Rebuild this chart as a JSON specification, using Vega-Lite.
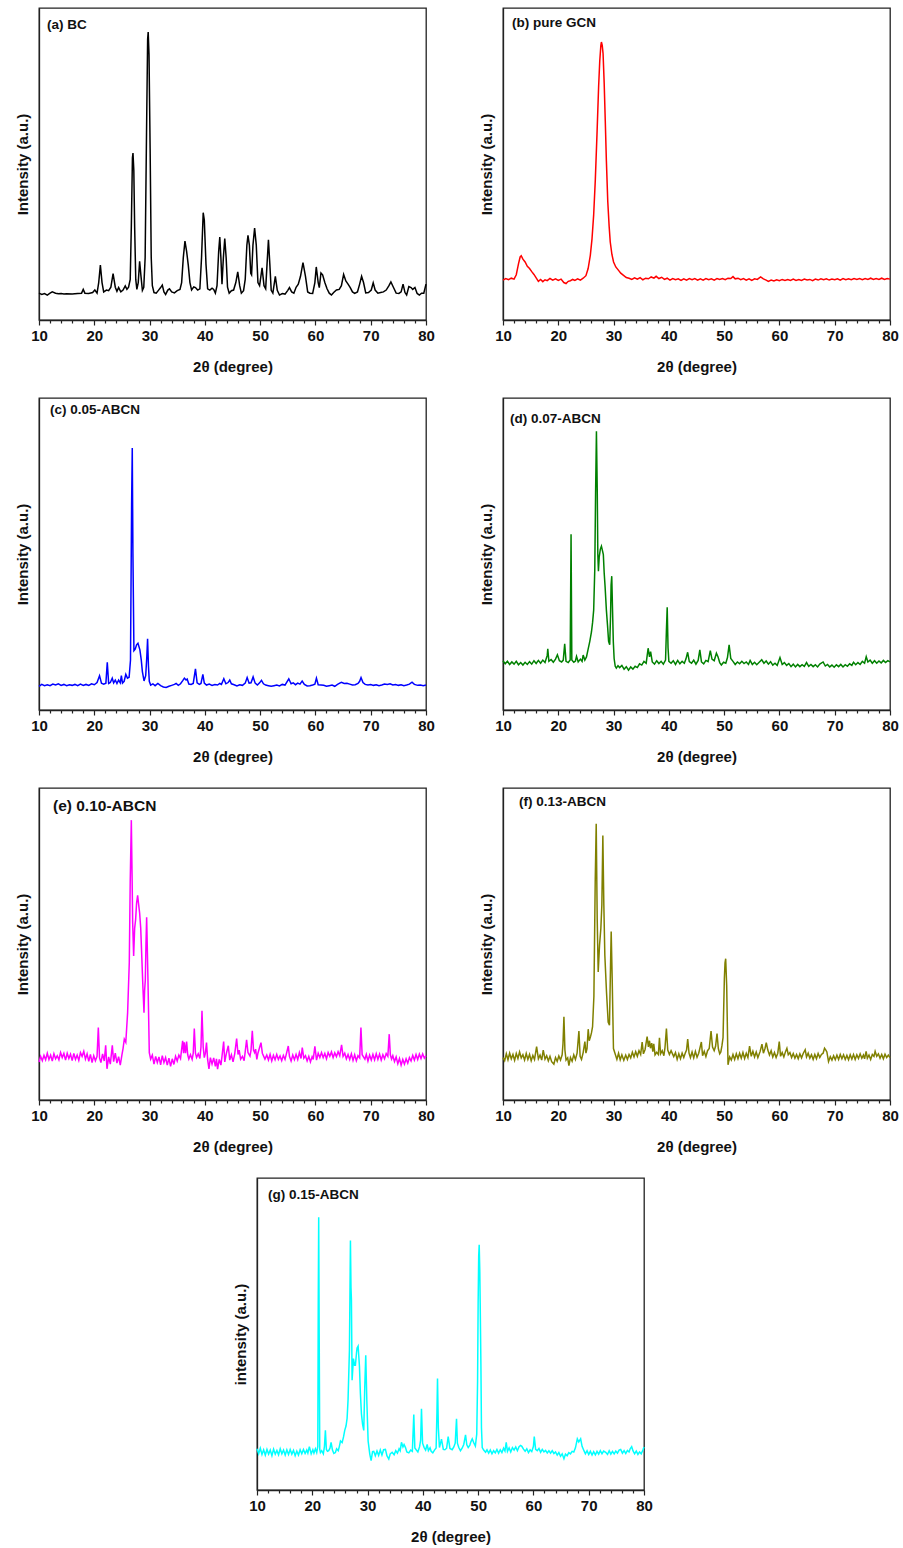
{
"$schema": "https://vega.github.io/schema/vega-lite/v6.json",
"padding": {"left": 14, "top": 7, "right": 5, "bottom": 5},
"background": "white",
"config": {
 "font": "Liberation Sans",
 "view": {"stroke": "#222", "strokeWidth": 1.3},
 "axis": {"grid": false},
 "axisX": {"labelFontSize": 15, "labelFontWeight": "bold", "labelColor": "#111", "labelPadding": 3, "labelFlush": false, "labelOverlap": false, "labelBound": false, "titleFontSize": 15, "titleFontWeight": "bold", "titleColor": "#111", "titlePadding": 16, "tickColor": "#222", "tickWidth": 1.2, "domainColor": "#222", "domainWidth": 1.3},
 "axisY": {"labels": false, "ticks": false, "titleFontSize": 15, "titleFontWeight": "bold", "titleColor": "#111", "titlePadding": 9, "domainColor": "#222", "domainWidth": 1.3},
 "title": {"anchor": "start", "frame": "group", "baseline": "top", "fontSize": 13.5, "fontWeight": "bold", "color": "#111"},
 "line": {"strokeWidth": 1.5}
},
"datasets": {
"a": [{"x":10.0,"y":8.6},{"x":10.5,"y":8.2},{"x":11.0,"y":8.5},{"x":11.5,"y":8.0},{"x":12.0,"y":8.6},{"x":12.4,"y":9.0},{"x":13.0,"y":8.6},{"x":13.5,"y":8.4},{"x":14.0,"y":8.5},{"x":14.5,"y":8.3},{"x":15.0,"y":8.4},{"x":16.0,"y":8.3},{"x":17.0,"y":8.5},{"x":17.7,"y":8.6},{"x":18.0,"y":9.8},{"x":18.3,"y":8.6},{"x":19.0,"y":8.5},{"x":19.7,"y":8.8},{"x":20.1,"y":9.6},{"x":20.5,"y":8.6},{"x":20.8,"y":12},{"x":21.1,"y":17.6},{"x":21.4,"y":12},{"x":21.7,"y":9.0},{"x":22.2,"y":9.6},{"x":22.6,"y":9.4},{"x":23.0,"y":10.5},{"x":23.4,"y":14.9},{"x":23.8,"y":10.5},{"x":24.1,"y":9.2},{"x":24.4,"y":10.4},{"x":24.8,"y":9.0},{"x":25.2,"y":9.6},{"x":25.6,"y":10.9},{"x":25.9,"y":9.8},{"x":26.2,"y":10.5},{"x":26.5,"y":13},{"x":26.7,"y":30},{"x":26.9,"y":52},{"x":27.0,"y":53.5},{"x":27.15,"y":48},{"x":27.3,"y":30},{"x":27.5,"y":13},{"x":27.7,"y":9.8},{"x":27.95,"y":12},{"x":28.2,"y":18.8},{"x":28.45,"y":14},{"x":28.7,"y":9.5},{"x":28.95,"y":10.5},{"x":29.2,"y":20},{"x":29.45,"y":60},{"x":29.65,"y":90},{"x":29.75,"y":92.3},{"x":29.9,"y":85},{"x":30.1,"y":55},{"x":30.3,"y":20},{"x":30.5,"y":11},{"x":30.8,"y":8.8},{"x":31.2,"y":8.6},{"x":31.6,"y":9.5},{"x":32.0,"y":10.4},{"x":32.3,"y":11.2},{"x":32.6,"y":9.0},{"x":32.9,"y":8.2},{"x":33.3,"y":9.6},{"x":33.6,"y":10.0},{"x":34.0,"y":9.0},{"x":34.5,"y":8.7},{"x":35.0,"y":9.4},{"x":35.5,"y":9.8},{"x":35.8,"y":12},{"x":36.1,"y":20},{"x":36.4,"y":25.3},{"x":36.7,"y":22},{"x":37.0,"y":17.6},{"x":37.3,"y":12},{"x":37.6,"y":9.6},{"x":38.0,"y":10.6},{"x":38.3,"y":10.4},{"x":38.7,"y":9.6},{"x":39.1,"y":10.0},{"x":39.4,"y":20},{"x":39.7,"y":34.4},{"x":39.9,"y":32},{"x":40.2,"y":18},{"x":40.5,"y":10},{"x":40.9,"y":9.6},{"x":41.3,"y":10.2},{"x":41.6,"y":9.8},{"x":41.9,"y":8.6},{"x":42.2,"y":11},{"x":42.5,"y":22},{"x":42.7,"y":26.6},{"x":42.9,"y":20},{"x":43.1,"y":11.5},{"x":43.35,"y":20},{"x":43.6,"y":26.1},{"x":43.85,"y":20},{"x":44.1,"y":10.5},{"x":44.4,"y":8.6},{"x":44.8,"y":9.4},{"x":45.2,"y":9.6},{"x":45.6,"y":12},{"x":45.95,"y":15.4},{"x":46.3,"y":11},{"x":46.6,"y":8.6},{"x":47.0,"y":9.4},{"x":47.3,"y":13},{"x":47.6,"y":24},{"x":47.8,"y":27.1},{"x":48.05,"y":24},{"x":48.3,"y":15},{"x":48.45,"y":14.5},{"x":48.7,"y":24},{"x":49.0,"y":29.5},{"x":49.3,"y":24},{"x":49.6,"y":12},{"x":49.9,"y":11},{"x":50.35,"y":16.7},{"x":50.7,"y":11},{"x":51.0,"y":10},{"x":51.25,"y":18},{"x":51.5,"y":25.7},{"x":51.75,"y":18},{"x":52.0,"y":9.5},{"x":52.3,"y":8.6},{"x":52.75,"y":14.0},{"x":53.1,"y":9.5},{"x":53.5,"y":8.0},{"x":54.0,"y":8.5},{"x":54.5,"y":8.3},{"x":55.0,"y":9.5},{"x":55.3,"y":10.4},{"x":55.7,"y":9.0},{"x":56.1,"y":8.6},{"x":56.5,"y":10.5},{"x":56.9,"y":11.5},{"x":57.3,"y":14},{"x":57.75,"y":18.4},{"x":58.2,"y":14},{"x":58.6,"y":9.0},{"x":59.0,"y":8.6},{"x":59.5,"y":8.5},{"x":59.9,"y":12},{"x":60.15,"y":17.0},{"x":60.5,"y":12},{"x":60.7,"y":10.4},{"x":61.0,"y":15.1},{"x":61.3,"y":14.5},{"x":61.7,"y":12},{"x":62.1,"y":10},{"x":62.5,"y":8.6},{"x":62.9,"y":8.0},{"x":63.3,"y":8.8},{"x":63.8,"y":9.6},{"x":64.3,"y":9.8},{"x":64.7,"y":11},{"x":65.1,"y":14.6},{"x":65.5,"y":12.5},{"x":65.9,"y":11.5},{"x":66.3,"y":10.4},{"x":66.7,"y":9.0},{"x":67.1,"y":8.5},{"x":67.6,"y":9.0},{"x":68.0,"y":11.5},{"x":68.35,"y":14.0},{"x":68.7,"y":12},{"x":69.1,"y":8.7},{"x":69.6,"y":8.8},{"x":70.1,"y":9.6},{"x":70.45,"y":11.9},{"x":70.8,"y":9.6},{"x":71.3,"y":8.6},{"x":71.8,"y":8.8},{"x":72.3,"y":9.0},{"x":72.8,"y":9.6},{"x":73.3,"y":11},{"x":73.65,"y":12.2},{"x":74.1,"y":10.5},{"x":74.6,"y":8.6},{"x":75.1,"y":8.5},{"x":75.5,"y":9.0},{"x":75.85,"y":11.5},{"x":76.2,"y":8.8},{"x":76.5,"y":8.0},{"x":76.9,"y":10.7},{"x":77.3,"y":10.4},{"x":77.6,"y":9.8},{"x":78.0,"y":10.4},{"x":78.4,"y":8.5},{"x":78.8,"y":8.0},{"x":79.2,"y":8.6},{"x":79.6,"y":8.6},{"x":80.0,"y":11.5}],
"b": [{"x":10.0,"y":12.8},{"x":10.5,"y":13.3},{"x":11.0,"y":12.9},{"x":11.5,"y":13.4},{"x":12.0,"y":13.1},{"x":12.4,"y":14.5},{"x":12.8,"y":18},{"x":13.1,"y":20.2},{"x":13.3,"y":20.6},{"x":13.6,"y":19.5},{"x":14.0,"y":18.6},{"x":14.4,"y":17.2},{"x":14.8,"y":16.5},{"x":15.2,"y":15.5},{"x":15.6,"y":14.6},{"x":16.0,"y":13.5},{"x":16.4,"y":12.4},{"x":16.8,"y":13.0},{"x":17.2,"y":12.3},{"x":17.6,"y":12.9},{"x":18.0,"y":12.6},{"x":18.5,"y":13.3},{"x":19.0,"y":12.8},{"x":19.5,"y":13.2},{"x":20.0,"y":12.7},{"x":20.5,"y":13.1},{"x":21.0,"y":12.0},{"x":21.4,"y":11.7},{"x":21.8,"y":12.4},{"x":22.2,"y":12.6},{"x":22.6,"y":13.0},{"x":23.0,"y":12.7},{"x":23.5,"y":13.2},{"x":24.0,"y":12.8},{"x":24.5,"y":13.4},{"x":25.0,"y":14.2},{"x":25.4,"y":16.5},{"x":25.8,"y":20.8},{"x":26.1,"y":26},{"x":26.4,"y":33.7},{"x":26.7,"y":45},{"x":27.0,"y":59.5},{"x":27.3,"y":75},{"x":27.5,"y":83},{"x":27.7,"y":88},{"x":27.8,"y":89.1},{"x":27.95,"y":88},{"x":28.1,"y":85.4},{"x":28.3,"y":76},{"x":28.5,"y":63.8},{"x":28.7,"y":51},{"x":28.95,"y":38},{"x":29.2,"y":30},{"x":29.4,"y":25},{"x":29.7,"y":21},{"x":30.0,"y":18.6},{"x":30.4,"y":17},{"x":30.9,"y":15.9},{"x":31.3,"y":15.0},{"x":31.8,"y":14.3},{"x":32.3,"y":13.6},{"x":32.8,"y":13.4},{"x":33.3,"y":13.0},{"x":33.8,"y":13.5},{"x":34.3,"y":13.1},{"x":34.8,"y":13.6},{"x":35.3,"y":12.9},{"x":35.8,"y":13.4},{"x":36.3,"y":13.2},{"x":36.8,"y":13.8},{"x":37.3,"y":13.4},{"x":37.7,"y":14.0},{"x":38.2,"y":13.3},{"x":38.7,"y":13.7},{"x":39.2,"y":13.0},{"x":39.7,"y":13.4},{"x":40.2,"y":12.8},{"x":40.7,"y":13.3},{"x":41.2,"y":12.9},{"x":41.7,"y":13.2},{"x":42.2,"y":12.7},{"x":42.7,"y":13.2},{"x":43.2,"y":12.8},{"x":43.7,"y":13.3},{"x":44.2,"y":12.9},{"x":44.7,"y":13.3},{"x":45.2,"y":12.8},{"x":45.7,"y":13.2},{"x":46.2,"y":12.8},{"x":46.7,"y":13.3},{"x":47.2,"y":12.9},{"x":47.7,"y":13.2},{"x":48.2,"y":12.8},{"x":48.7,"y":13.3},{"x":49.2,"y":13.0},{"x":49.7,"y":13.3},{"x":50.2,"y":12.9},{"x":50.7,"y":13.4},{"x":51.2,"y":13.3},{"x":51.6,"y":13.9},{"x":52.0,"y":13.2},{"x":52.5,"y":13.4},{"x":53.0,"y":12.9},{"x":53.5,"y":13.3},{"x":54.0,"y":12.8},{"x":54.5,"y":13.2},{"x":55.0,"y":12.7},{"x":55.5,"y":13.2},{"x":56.0,"y":13.0},{"x":56.6,"y":13.8},{"x":57.1,"y":13.2},{"x":57.6,"y":12.8},{"x":58.0,"y":12.4},{"x":58.5,"y":12.8},{"x":59.0,"y":12.5},{"x":59.5,"y":12.9},{"x":60.0,"y":12.6},{"x":60.5,"y":13.0},{"x":61.0,"y":12.7},{"x":61.5,"y":13.0},{"x":62.0,"y":12.7},{"x":62.5,"y":13.1},{"x":63.0,"y":12.7},{"x":63.5,"y":13.0},{"x":64.0,"y":12.7},{"x":64.5,"y":13.1},{"x":65.0,"y":12.8},{"x":65.5,"y":13.0},{"x":66.0,"y":12.6},{"x":66.5,"y":13.1},{"x":67.0,"y":12.8},{"x":67.5,"y":13.2},{"x":68.0,"y":12.9},{"x":68.5,"y":13.2},{"x":69.0,"y":12.8},{"x":69.5,"y":13.1},{"x":70.0,"y":12.9},{"x":70.5,"y":13.2},{"x":71.0,"y":12.8},{"x":71.5,"y":13.3},{"x":72.0,"y":12.9},{"x":72.5,"y":13.2},{"x":73.0,"y":12.9},{"x":73.5,"y":13.3},{"x":74.0,"y":13.0},{"x":74.5,"y":13.3},{"x":75.0,"y":12.9},{"x":75.5,"y":13.3},{"x":76.0,"y":13.0},{"x":76.5,"y":13.4},{"x":77.0,"y":13.0},{"x":77.5,"y":13.3},{"x":78.0,"y":13.0},{"x":78.5,"y":13.4},{"x":79.0,"y":13.0},{"x":79.5,"y":13.3},{"x":80.0,"y":13.1}],
"c": [{"x":10.0,"y":7.6},{"x":10.5,"y":8.2},{"x":11.0,"y":7.8},{"x":11.5,"y":8.1},{"x":12.0,"y":7.8},{"x":12.5,"y":8.3},{"x":13.0,"y":8.0},{"x":13.5,"y":8.4},{"x":14.0,"y":7.9},{"x":14.5,"y":8.2},{"x":15.0,"y":7.8},{"x":15.5,"y":8.1},{"x":16.0,"y":7.9},{"x":16.5,"y":8.2},{"x":17.0,"y":7.8},{"x":17.5,"y":8.3},{"x":18.0,"y":7.9},{"x":18.5,"y":8.2},{"x":19.0,"y":7.9},{"x":19.5,"y":8.4},{"x":20.0,"y":8.1},{"x":20.5,"y":8.8},{"x":20.95,"y":11.0},{"x":21.3,"y":8.6},{"x":21.7,"y":8.3},{"x":22.1,"y":8.6},{"x":22.35,"y":15.3},{"x":22.6,"y":8.5},{"x":22.9,"y":8.8},{"x":23.25,"y":10.2},{"x":23.5,"y":8.7},{"x":23.8,"y":9.6},{"x":24.1,"y":8.5},{"x":24.4,"y":9.6},{"x":24.7,"y":8.7},{"x":24.9,"y":11.0},{"x":25.1,"y":8.6},{"x":25.4,"y":9.2},{"x":25.7,"y":11.4},{"x":26.0,"y":10.2},{"x":26.3,"y":10.5},{"x":26.55,"y":16},{"x":26.75,"y":65.8},{"x":26.87,"y":84},{"x":26.99,"y":50},{"x":27.17,"y":19},{"x":27.4,"y":19.5},{"x":27.65,"y":20.9},{"x":27.9,"y":21.4},{"x":28.25,"y":19.3},{"x":28.5,"y":16},{"x":28.7,"y":12.3},{"x":29.0,"y":9.3},{"x":29.3,"y":11},{"x":29.5,"y":17},{"x":29.64,"y":22.8},{"x":29.8,"y":14},{"x":29.95,"y":9.2},{"x":30.2,"y":8.0},{"x":30.6,"y":8.4},{"x":31.0,"y":7.8},{"x":31.5,"y":8.5},{"x":32.0,"y":7.8},{"x":32.5,"y":7.4},{"x":33.0,"y":7.2},{"x":33.5,"y":7.6},{"x":34.0,"y":7.9},{"x":34.5,"y":8.2},{"x":34.8,"y":8.5},{"x":35.2,"y":7.9},{"x":35.6,"y":8.4},{"x":36.0,"y":9.4},{"x":36.3,"y":10.2},{"x":36.6,"y":9.6},{"x":36.8,"y":9.9},{"x":37.1,"y":8.3},{"x":37.5,"y":8.2},{"x":37.9,"y":8.5},{"x":38.3,"y":13.2},{"x":38.6,"y":8.7},{"x":39.0,"y":8.2},{"x":39.3,"y":8.5},{"x":39.64,"y":11.4},{"x":39.9,"y":8.6},{"x":40.3,"y":8.0},{"x":40.8,"y":8.3},{"x":41.3,"y":7.9},{"x":41.8,"y":8.2},{"x":42.3,"y":8.0},{"x":42.7,"y":8.5},{"x":43.0,"y":8.2},{"x":43.43,"y":10.0},{"x":43.8,"y":8.4},{"x":44.2,"y":8.8},{"x":44.5,"y":9.6},{"x":44.8,"y":8.4},{"x":45.3,"y":8.1},{"x":45.8,"y":7.7},{"x":46.3,"y":8.1},{"x":46.8,"y":7.9},{"x":47.3,"y":8.6},{"x":47.65,"y":10.4},{"x":48.0,"y":8.6},{"x":48.35,"y":8.7},{"x":48.73,"y":10.6},{"x":49.1,"y":8.6},{"x":49.5,"y":8.0},{"x":49.9,"y":8.7},{"x":50.24,"y":9.5},{"x":50.6,"y":8.4},{"x":51.0,"y":8.0},{"x":51.5,"y":7.8},{"x":52.0,"y":7.6},{"x":52.5,"y":7.8},{"x":53.0,"y":8.0},{"x":53.5,"y":7.7},{"x":54.0,"y":8.2},{"x":54.5,"y":8.0},{"x":55.18,"y":10.0},{"x":55.6,"y":8.4},{"x":56.0,"y":8.7},{"x":56.4,"y":8.1},{"x":56.8,"y":8.6},{"x":57.2,"y":8.3},{"x":57.6,"y":9.3},{"x":58.0,"y":8.2},{"x":58.5,"y":7.7},{"x":59.0,"y":7.8},{"x":59.5,"y":8.0},{"x":59.9,"y":8.3},{"x":60.18,"y":10.2},{"x":60.5,"y":8.1},{"x":61.0,"y":8.0},{"x":61.5,"y":7.9},{"x":62.0,"y":7.6},{"x":62.5,"y":7.8},{"x":63.0,"y":8.0},{"x":63.5,"y":7.6},{"x":64.0,"y":8.2},{"x":64.4,"y":8.6},{"x":64.7,"y":8.9},{"x":65.2,"y":8.5},{"x":65.7,"y":8.6},{"x":66.2,"y":8.3},{"x":66.7,"y":8.0},{"x":67.2,"y":8.1},{"x":67.7,"y":8.5},{"x":68.0,"y":9.2},{"x":68.25,"y":10.4},{"x":68.6,"y":8.8},{"x":69.0,"y":8.2},{"x":69.5,"y":8.0},{"x":70.0,"y":8.2},{"x":70.5,"y":7.9},{"x":71.0,"y":8.1},{"x":71.5,"y":7.8},{"x":72.0,"y":8.0},{"x":72.5,"y":8.3},{"x":73.0,"y":8.2},{"x":73.5,"y":8.4},{"x":74.0,"y":8.0},{"x":74.5,"y":8.2},{"x":75.0,"y":7.9},{"x":75.5,"y":8.1},{"x":76.0,"y":7.8},{"x":76.5,"y":8.0},{"x":77.0,"y":8.3},{"x":77.47,"y":8.9},{"x":77.9,"y":8.2},{"x":78.5,"y":7.9},{"x":79.0,"y":8.0},{"x":79.5,"y":7.8},{"x":80.0,"y":8.0}],
"d": [{"x":10.0,"y":15.8},{"x":10.4,"y":14.8},{"x":10.8,"y":15.6},{"x":11.2,"y":14.6},{"x":11.6,"y":15.4},{"x":12.0,"y":14.7},{"x":12.4,"y":15.6},{"x":12.8,"y":14.5},{"x":13.2,"y":15.2},{"x":13.6,"y":14.4},{"x":14.0,"y":15.3},{"x":14.4,"y":14.6},{"x":14.8,"y":15.5},{"x":15.2,"y":14.7},{"x":15.6,"y":15.8},{"x":16.0,"y":14.9},{"x":16.4,"y":15.9},{"x":16.8,"y":15.0},{"x":17.2,"y":16.0},{"x":17.6,"y":15.2},{"x":18.0,"y":17.5},{"x":18.1,"y":19.6},{"x":18.3,"y":15.6},{"x":18.7,"y":16.2},{"x":19.1,"y":15.3},{"x":19.5,"y":16.3},{"x":19.84,"y":17.7},{"x":20.2,"y":15.8},{"x":20.6,"y":15.4},{"x":20.9,"y":16.0},{"x":21.16,"y":21.2},{"x":21.4,"y":15.6},{"x":21.8,"y":15.2},{"x":22.15,"y":16.0},{"x":22.31,"y":56.3},{"x":22.45,"y":16.0},{"x":22.8,"y":15.3},{"x":23.1,"y":15.7},{"x":23.3,"y":17.2},{"x":23.6,"y":15.4},{"x":24.0,"y":16.3},{"x":24.3,"y":15.6},{"x":24.5,"y":17.6},{"x":24.8,"y":16.0},{"x":25.1,"y":17.0},{"x":25.4,"y":19.5},{"x":25.7,"y":22},{"x":26.0,"y":25},{"x":26.2,"y":28},{"x":26.4,"y":32},{"x":26.6,"y":45},{"x":26.75,"y":70},{"x":26.9,"y":89.3},{"x":27.05,"y":70},{"x":27.15,"y":50},{"x":27.26,"y":44.5},{"x":27.4,"y":49},{"x":27.6,"y":51.5},{"x":27.8,"y":52.5},{"x":28.0,"y":51},{"x":28.15,"y":49.8},{"x":28.3,"y":44},{"x":28.47,"y":39.4},{"x":28.7,"y":32},{"x":28.9,"y":27.3},{"x":29.1,"y":22},{"x":29.3,"y":20.9},{"x":29.45,"y":30},{"x":29.55,"y":40},{"x":29.67,"y":42.9},{"x":29.8,"y":33},{"x":29.95,"y":22},{"x":30.1,"y":16.5},{"x":30.3,"y":14},{"x":30.5,"y":13.4},{"x":30.8,"y":14.2},{"x":31.1,"y":13.6},{"x":31.5,"y":14.3},{"x":31.9,"y":13.1},{"x":32.3,"y":13.9},{"x":32.7,"y":12.8},{"x":33.1,"y":13.8},{"x":33.5,"y":13.1},{"x":33.9,"y":14.0},{"x":34.3,"y":13.6},{"x":34.7,"y":14.8},{"x":35.1,"y":14.4},{"x":35.5,"y":15.6},{"x":35.9,"y":15.0},{"x":36.25,"y":19.8},{"x":36.5,"y":17.0},{"x":36.7,"y":18.7},{"x":37.0,"y":15.4},{"x":37.4,"y":14.7},{"x":37.8,"y":15.8},{"x":38.2,"y":14.9},{"x":38.6,"y":15.6},{"x":39.0,"y":14.7},{"x":39.4,"y":16.0},{"x":39.55,"y":25},{"x":39.7,"y":32.9},{"x":39.85,"y":20},{"x":40.0,"y":15.6},{"x":40.4,"y":15.0},{"x":40.8,"y":15.8},{"x":41.2,"y":14.6},{"x":41.6,"y":15.9},{"x":42.0,"y":14.8},{"x":42.4,"y":15.6},{"x":42.8,"y":15.0},{"x":43.1,"y":16.4},{"x":43.4,"y":18.5},{"x":43.7,"y":15.5},{"x":44.1,"y":15.0},{"x":44.5,"y":16.0},{"x":44.9,"y":14.7},{"x":45.3,"y":15.9},{"x":45.6,"y":19.3},{"x":45.9,"y":15.4},{"x":46.3,"y":14.8},{"x":46.7,"y":15.9},{"x":47.1,"y":15.5},{"x":47.5,"y":19.0},{"x":47.8,"y":16.3},{"x":48.2,"y":15.8},{"x":48.6,"y":18.2},{"x":48.9,"y":17.0},{"x":49.2,"y":15.2},{"x":49.5,"y":14.4},{"x":49.9,"y":15.3},{"x":50.3,"y":15.0},{"x":50.6,"y":16.8},{"x":50.9,"y":20.9},{"x":51.2,"y":16.5},{"x":51.6,"y":15.6},{"x":52.0,"y":14.6},{"x":52.4,"y":15.4},{"x":52.8,"y":14.8},{"x":53.2,"y":15.6},{"x":53.6,"y":14.9},{"x":54.0,"y":15.4},{"x":54.4,"y":14.6},{"x":54.7,"y":15.9},{"x":55.1,"y":14.6},{"x":55.5,"y":15.3},{"x":55.9,"y":14.5},{"x":56.3,"y":15.2},{"x":56.8,"y":16.1},{"x":57.2,"y":15.0},{"x":57.6,"y":15.7},{"x":58.0,"y":14.7},{"x":58.4,"y":15.5},{"x":58.8,"y":14.4},{"x":59.2,"y":15.0},{"x":59.6,"y":14.3},{"x":60.1,"y":16.8},{"x":60.5,"y":14.6},{"x":60.9,"y":15.2},{"x":61.3,"y":14.3},{"x":61.7,"y":14.9},{"x":62.1,"y":13.9},{"x":62.5,"y":14.7},{"x":62.9,"y":13.8},{"x":63.3,"y":14.6},{"x":63.7,"y":13.9},{"x":64.1,"y":14.5},{"x":64.5,"y":14.0},{"x":64.9,"y":15.2},{"x":65.3,"y":14.0},{"x":65.7,"y":14.6},{"x":66.1,"y":13.9},{"x":66.5,"y":14.5},{"x":66.9,"y":13.8},{"x":67.3,"y":14.7},{"x":67.9,"y":15.4},{"x":68.3,"y":14.1},{"x":68.7,"y":14.6},{"x":69.1,"y":13.8},{"x":69.5,"y":14.4},{"x":69.9,"y":13.7},{"x":70.3,"y":14.5},{"x":70.7,"y":13.9},{"x":71.1,"y":14.6},{"x":71.5,"y":13.8},{"x":71.9,"y":14.5},{"x":72.3,"y":14.0},{"x":72.7,"y":14.8},{"x":73.1,"y":14.3},{"x":73.4,"y":15.3},{"x":73.8,"y":14.5},{"x":74.2,"y":15.2},{"x":74.6,"y":14.6},{"x":75.0,"y":15.6},{"x":75.4,"y":15.0},{"x":75.7,"y":17.1},{"x":76.0,"y":15.4},{"x":76.4,"y":16.0},{"x":76.8,"y":15.0},{"x":77.2,"y":15.8},{"x":77.6,"y":15.0},{"x":78.0,"y":15.7},{"x":78.4,"y":15.1},{"x":78.8,"y":15.9},{"x":79.2,"y":15.2},{"x":79.6,"y":15.8},{"x":80.0,"y":15.4}],
"e": [{"x":10.0,"y":12.2},{"x":10.3,"y":14.0},{"x":10.6,"y":12.6},{"x":10.9,"y":14.3},{"x":11.2,"y":12.9},{"x":11.5,"y":15.0},{"x":11.8,"y":13.0},{"x":12.1,"y":14.4},{"x":12.4,"y":12.5},{"x":12.7,"y":14.8},{"x":13.0,"y":13.2},{"x":13.3,"y":14.2},{"x":13.6,"y":12.9},{"x":13.9,"y":15.2},{"x":14.2,"y":13.6},{"x":14.5,"y":14.9},{"x":14.8,"y":12.8},{"x":15.1,"y":15.0},{"x":15.4,"y":13.3},{"x":15.7,"y":14.7},{"x":16.0,"y":12.6},{"x":16.3,"y":14.9},{"x":16.6,"y":13.0},{"x":16.9,"y":14.4},{"x":17.2,"y":12.7},{"x":17.5,"y":15.2},{"x":17.8,"y":14.0},{"x":18.1,"y":15.6},{"x":18.4,"y":13.1},{"x":18.7,"y":14.8},{"x":19.0,"y":12.4},{"x":19.3,"y":14.6},{"x":19.6,"y":12.0},{"x":19.9,"y":14.2},{"x":20.2,"y":12.6},{"x":20.5,"y":14.0},{"x":20.73,"y":23.2},{"x":20.95,"y":13.5},{"x":21.2,"y":12.0},{"x":21.5,"y":14.8},{"x":21.8,"y":12.5},{"x":22.06,"y":17.5},{"x":22.3,"y":10.0},{"x":22.6,"y":13.8},{"x":22.9,"y":11.5},{"x":23.26,"y":17.5},{"x":23.5,"y":12.3},{"x":23.8,"y":15.0},{"x":24.1,"y":11.8},{"x":24.4,"y":13.9},{"x":24.7,"y":11.2},{"x":25.0,"y":14.5},{"x":25.2,"y":16.5},{"x":25.43,"y":19.5},{"x":25.7,"y":18.5},{"x":26.03,"y":28},{"x":26.33,"y":44},{"x":26.5,"y":70},{"x":26.7,"y":89.7},{"x":26.85,"y":70},{"x":26.94,"y":57},{"x":27.12,"y":46.2},{"x":27.3,"y":55},{"x":27.48,"y":57.9},{"x":27.65,"y":63},{"x":27.84,"y":65.6},{"x":28.0,"y":63},{"x":28.2,"y":60},{"x":28.4,"y":55},{"x":28.57,"y":47},{"x":28.8,"y":36},{"x":28.99,"y":28},{"x":29.1,"y":35},{"x":29.23,"y":38.5},{"x":29.35,"y":50},{"x":29.47,"y":58.6},{"x":29.6,"y":48},{"x":29.71,"y":38.5},{"x":29.85,"y":25},{"x":29.95,"y":15.2},{"x":30.2,"y":13.1},{"x":30.5,"y":14.4},{"x":30.8,"y":11.5},{"x":31.1,"y":14.0},{"x":31.4,"y":12.0},{"x":31.7,"y":13.8},{"x":32.0,"y":11.3},{"x":32.3,"y":14.2},{"x":32.6,"y":12.0},{"x":32.9,"y":13.6},{"x":33.2,"y":11.2},{"x":33.5,"y":13.4},{"x":33.8,"y":10.8},{"x":34.1,"y":13.2},{"x":34.4,"y":11.4},{"x":34.7,"y":14.0},{"x":35.0,"y":12.5},{"x":35.3,"y":14.4},{"x":35.6,"y":13.3},{"x":35.98,"y":19.0},{"x":36.15,"y":15},{"x":36.28,"y":18.5},{"x":36.5,"y":15},{"x":36.7,"y":18.7},{"x":36.9,"y":14.5},{"x":37.1,"y":13.1},{"x":37.4,"y":14.5},{"x":37.7,"y":13.0},{"x":37.9,"y":15},{"x":38.09,"y":22.9},{"x":38.3,"y":15},{"x":38.5,"y":13.6},{"x":38.8,"y":14.8},{"x":39.1,"y":13.3},{"x":39.3,"y":17},{"x":39.48,"y":28.6},{"x":39.7,"y":17},{"x":39.9,"y":13.6},{"x":40.1,"y":15.0},{"x":40.3,"y":18.4},{"x":40.5,"y":13.0},{"x":40.74,"y":10.0},{"x":41.0,"y":13.6},{"x":41.3,"y":11.5},{"x":41.6,"y":13.5},{"x":41.9,"y":10.8},{"x":42.1,"y":13.2},{"x":42.3,"y":9.9},{"x":42.6,"y":13.0},{"x":42.9,"y":11.2},{"x":43.1,"y":14.0},{"x":43.4,"y":18.7},{"x":43.6,"y":12.2},{"x":43.9,"y":15.0},{"x":44.24,"y":17.4},{"x":44.5,"y":12.8},{"x":44.8,"y":14.5},{"x":45.1,"y":12.2},{"x":45.4,"y":14.8},{"x":45.75,"y":19.7},{"x":46.0,"y":14.6},{"x":46.2,"y":16},{"x":46.47,"y":13.1},{"x":46.8,"y":14.0},{"x":47.1,"y":12.6},{"x":47.3,"y":15.5},{"x":47.55,"y":19.3},{"x":47.8,"y":15.2},{"x":48.16,"y":14.1},{"x":48.35,"y":16},{"x":48.58,"y":22.2},{"x":48.8,"y":16.0},{"x":49.0,"y":15.2},{"x":49.18,"y":16.3},{"x":49.4,"y":13.0},{"x":49.6,"y":15.0},{"x":49.85,"y":16.5},{"x":50.15,"y":18.4},{"x":50.4,"y":15.0},{"x":50.87,"y":13.1},{"x":51.2,"y":14.4},{"x":51.5,"y":12.8},{"x":51.8,"y":14.6},{"x":52.1,"y":12.5},{"x":52.4,"y":14.3},{"x":52.7,"y":12.9},{"x":53.0,"y":14.6},{"x":53.3,"y":13.0},{"x":53.6,"y":14.1},{"x":53.9,"y":12.6},{"x":54.2,"y":14.3},{"x":54.5,"y":13.0},{"x":54.8,"y":15.2},{"x":55.09,"y":17.3},{"x":55.3,"y":14.0},{"x":55.6,"y":12.5},{"x":55.9,"y":14.4},{"x":56.2,"y":12.9},{"x":56.5,"y":14.6},{"x":56.8,"y":13.0},{"x":57.1,"y":15.2},{"x":57.4,"y":13.3},{"x":57.62,"y":16.8},{"x":57.9,"y":13.4},{"x":58.2,"y":14.2},{"x":58.5,"y":12.5},{"x":58.8,"y":14.0},{"x":59.1,"y":12.2},{"x":59.4,"y":13.9},{"x":59.6,"y":13.0},{"x":59.9,"y":17.2},{"x":60.2,"y":12.8},{"x":60.5,"y":15.0},{"x":60.8,"y":13.6},{"x":61.1,"y":15.2},{"x":61.4,"y":13.6},{"x":61.7,"y":14.9},{"x":62.0,"y":13.2},{"x":62.3,"y":15.2},{"x":62.6,"y":14.0},{"x":62.9,"y":15.4},{"x":63.2,"y":13.6},{"x":63.5,"y":15.1},{"x":63.8,"y":13.9},{"x":64.1,"y":15.5},{"x":64.4,"y":14.2},{"x":64.73,"y":17.7},{"x":65.0,"y":14.0},{"x":65.3,"y":15.0},{"x":65.6,"y":13.2},{"x":65.9,"y":14.6},{"x":66.2,"y":13.0},{"x":66.5,"y":14.8},{"x":66.8,"y":12.7},{"x":67.1,"y":14.5},{"x":67.4,"y":12.6},{"x":67.7,"y":14.2},{"x":68.0,"y":13.5},{"x":68.23,"y":23.2},{"x":68.45,"y":14.5},{"x":68.95,"y":13.1},{"x":69.2,"y":14.6},{"x":69.5,"y":12.5},{"x":69.8,"y":14.4},{"x":70.1,"y":12.8},{"x":70.4,"y":14.6},{"x":70.7,"y":12.9},{"x":71.0,"y":14.8},{"x":71.3,"y":13.0},{"x":71.6,"y":14.7},{"x":71.9,"y":12.8},{"x":72.2,"y":14.5},{"x":72.5,"y":13.2},{"x":72.8,"y":14.9},{"x":73.1,"y":14.0},{"x":73.35,"y":21.1},{"x":73.55,"y":14.5},{"x":73.77,"y":13.1},{"x":74.0,"y":14.2},{"x":74.3,"y":12.3},{"x":74.6,"y":13.8},{"x":74.9,"y":11.6},{"x":75.2,"y":13.3},{"x":75.5,"y":11.2},{"x":75.8,"y":13.0},{"x":76.1,"y":11.5},{"x":76.4,"y":13.2},{"x":76.7,"y":11.8},{"x":77.0,"y":13.6},{"x":77.3,"y":12.5},{"x":77.6,"y":14.3},{"x":77.9,"y":12.8},{"x":78.2,"y":14.6},{"x":78.5,"y":13.0},{"x":78.8,"y":14.7},{"x":79.1,"y":13.3},{"x":79.4,"y":14.8},{"x":79.7,"y":13.4},{"x":80.0,"y":14.2}],
"f": [{"x":10.0,"y":13.6},{"x":10.3,"y":12.6},{"x":10.6,"y":14.8},{"x":10.9,"y":12.9},{"x":11.2,"y":15.0},{"x":11.5,"y":13.2},{"x":11.8,"y":14.6},{"x":12.1,"y":12.7},{"x":12.4,"y":14.9},{"x":12.7,"y":13.3},{"x":13.0,"y":15.4},{"x":13.3,"y":13.5},{"x":13.6,"y":14.5},{"x":13.9,"y":12.8},{"x":14.2,"y":14.9},{"x":14.5,"y":13.0},{"x":14.8,"y":14.6},{"x":15.1,"y":12.6},{"x":15.4,"y":14.3},{"x":15.7,"y":13.0},{"x":16.08,"y":17.1},{"x":16.4,"y":13.2},{"x":16.7,"y":14.4},{"x":17.0,"y":12.8},{"x":17.28,"y":16.0},{"x":17.6,"y":13.1},{"x":17.9,"y":14.2},{"x":18.2,"y":12.5},{"x":18.5,"y":14.0},{"x":18.8,"y":12.3},{"x":19.2,"y":11.5},{"x":19.5,"y":13.6},{"x":19.8,"y":12.4},{"x":20.1,"y":14.1},{"x":20.4,"y":12.8},{"x":20.7,"y":14.5},{"x":20.85,"y":18},{"x":21.02,"y":26.7},{"x":21.2,"y":16},{"x":21.4,"y":12.8},{"x":21.7,"y":13.5},{"x":21.92,"y":11.0},{"x":22.2,"y":13.6},{"x":22.5,"y":12.4},{"x":22.8,"y":14.5},{"x":23.1,"y":13.0},{"x":23.4,"y":15.0},{"x":23.73,"y":22.1},{"x":23.95,"y":14},{"x":24.2,"y":13.0},{"x":24.5,"y":15.2},{"x":24.81,"y":18.7},{"x":25.0,"y":15},{"x":25.2,"y":16.5},{"x":25.41,"y":22.7},{"x":25.6,"y":19},{"x":25.83,"y":20.3},{"x":26.0,"y":21.5},{"x":26.2,"y":23.5},{"x":26.44,"y":33.2},{"x":26.68,"y":70},{"x":26.86,"y":88.5},{"x":27.04,"y":58},{"x":27.22,"y":41},{"x":27.46,"y":49.6},{"x":27.7,"y":55},{"x":27.88,"y":62.5},{"x":28.06,"y":84.8},{"x":28.24,"y":62.5},{"x":28.42,"y":46.4},{"x":28.72,"y":34.6},{"x":29.02,"y":25},{"x":29.26,"y":24},{"x":29.45,"y":43.2},{"x":29.57,"y":54},{"x":29.75,"y":38.9},{"x":29.98,"y":16.5},{"x":30.35,"y":14.4},{"x":30.6,"y":13.0},{"x":30.9,"y":15.0},{"x":31.2,"y":12.9},{"x":31.5,"y":14.5},{"x":31.85,"y":12.7},{"x":32.2,"y":14.4},{"x":32.5,"y":13.0},{"x":32.8,"y":14.6},{"x":33.1,"y":13.5},{"x":33.4,"y":15.3},{"x":33.7,"y":13.8},{"x":34.0,"y":15.5},{"x":34.3,"y":14.0},{"x":34.6,"y":15.8},{"x":34.9,"y":14.6},{"x":35.17,"y":18.6},{"x":35.4,"y":14.8},{"x":35.7,"y":16.2},{"x":36.07,"y":20.3},{"x":36.3,"y":17},{"x":36.5,"y":19},{"x":36.67,"y":16.6},{"x":36.9,"y":18.2},{"x":37.1,"y":15.5},{"x":37.27,"y":18},{"x":37.5,"y":14.5},{"x":37.8,"y":15.3},{"x":38.1,"y":14.6},{"x":38.3,"y":19.9},{"x":38.5,"y":14.8},{"x":38.8,"y":15.8},{"x":39.1,"y":14.2},{"x":39.3,"y":16.8},{"x":39.56,"y":22.9},{"x":39.8,"y":16.0},{"x":40.1,"y":14.6},{"x":40.4,"y":15.8},{"x":40.88,"y":13.9},{"x":41.2,"y":15.2},{"x":41.5,"y":13.0},{"x":41.8,"y":14.8},{"x":42.1,"y":13.2},{"x":42.4,"y":15.0},{"x":42.7,"y":13.6},{"x":43.0,"y":15.2},{"x":43.2,"y":16},{"x":43.41,"y":19.5},{"x":43.65,"y":15},{"x":43.9,"y":13.6},{"x":44.2,"y":15.4},{"x":44.5,"y":13.5},{"x":44.8,"y":15.6},{"x":45.1,"y":13.7},{"x":45.4,"y":15.0},{"x":45.88,"y":18.6},{"x":46.1,"y":14.2},{"x":46.4,"y":15.6},{"x":46.7,"y":13.9},{"x":47.0,"y":15.8},{"x":47.3,"y":16.5},{"x":47.63,"y":22.1},{"x":47.9,"y":17.0},{"x":48.2,"y":15.8},{"x":48.45,"y":17.2},{"x":48.71,"y":21.3},{"x":48.95,"y":16.5},{"x":49.2,"y":14.8},{"x":49.4,"y":15.4},{"x":49.61,"y":17.5},{"x":49.8,"y":20},{"x":50.04,"y":38.9},{"x":50.16,"y":44},{"x":50.28,"y":45.3},{"x":50.46,"y":36.7},{"x":50.7,"y":11.3},{"x":51.0,"y":13.8},{"x":51.3,"y":12.8},{"x":51.6,"y":14.6},{"x":51.9,"y":13.0},{"x":52.2,"y":14.8},{"x":52.5,"y":13.2},{"x":52.8,"y":15.0},{"x":53.1,"y":13.4},{"x":53.4,"y":15.2},{"x":53.7,"y":13.3},{"x":54.0,"y":15.0},{"x":54.3,"y":13.6},{"x":54.6,"y":17.3},{"x":54.9,"y":14.0},{"x":55.2,"y":15.6},{"x":55.5,"y":13.8},{"x":55.8,"y":15.4},{"x":56.1,"y":13.6},{"x":56.5,"y":15.5},{"x":56.84,"y":17.9},{"x":57.1,"y":15.0},{"x":57.4,"y":16.6},{"x":57.62,"y":18.4},{"x":57.9,"y":16.0},{"x":58.2,"y":14.4},{"x":58.5,"y":15.8},{"x":58.8,"y":13.8},{"x":59.1,"y":15.2},{"x":59.4,"y":13.6},{"x":59.7,"y":15.0},{"x":59.97,"y":18.7},{"x":60.2,"y":14.0},{"x":60.5,"y":15.2},{"x":60.8,"y":13.8},{"x":61.1,"y":15.5},{"x":61.35,"y":16.6},{"x":61.6,"y":14.5},{"x":61.9,"y":15.2},{"x":62.2,"y":13.6},{"x":62.5,"y":14.9},{"x":62.8,"y":13.4},{"x":63.1,"y":14.6},{"x":63.4,"y":13.2},{"x":63.7,"y":14.8},{"x":64.0,"y":13.5},{"x":64.3,"y":14.9},{"x":64.66,"y":16.1},{"x":64.9,"y":13.8},{"x":65.2,"y":15.0},{"x":65.5,"y":13.4},{"x":65.8,"y":14.5},{"x":66.1,"y":13.0},{"x":66.4,"y":14.6},{"x":66.7,"y":13.2},{"x":67.0,"y":14.9},{"x":67.3,"y":13.6},{"x":67.6,"y":14.6},{"x":67.9,"y":15.0},{"x":68.16,"y":16.6},{"x":68.4,"y":16.0},{"x":68.58,"y":15.4},{"x":68.88,"y":12.3},{"x":69.2,"y":13.9},{"x":69.5,"y":12.8},{"x":69.8,"y":14.2},{"x":70.1,"y":12.9},{"x":70.4,"y":14.4},{"x":70.7,"y":13.0},{"x":71.0,"y":14.6},{"x":71.3,"y":13.2},{"x":71.6,"y":14.5},{"x":71.9,"y":13.0},{"x":72.2,"y":14.3},{"x":72.5,"y":12.9},{"x":72.8,"y":14.5},{"x":73.1,"y":13.1},{"x":73.4,"y":14.6},{"x":73.7,"y":13.0},{"x":74.0,"y":14.5},{"x":74.3,"y":13.3},{"x":74.6,"y":14.8},{"x":74.9,"y":13.4},{"x":75.2,"y":14.4},{"x":75.4,"y":13.2},{"x":75.68,"y":15.6},{"x":75.9,"y":13.4},{"x":76.2,"y":14.4},{"x":76.5,"y":13.0},{"x":76.8,"y":14.6},{"x":77.1,"y":14.0},{"x":77.31,"y":15.6},{"x":77.6,"y":14.0},{"x":77.9,"y":14.8},{"x":78.2,"y":13.4},{"x":78.5,"y":14.6},{"x":78.8,"y":13.2},{"x":79.1,"y":14.7},{"x":79.4,"y":13.6},{"x":79.7,"y":14.4},{"x":80.0,"y":13.6}],
"g": [{"x":10.0,"y":13.2},{"x":10.3,"y":11.6},{"x":10.6,"y":13.4},{"x":10.9,"y":11.4},{"x":11.2,"y":12.9},{"x":11.5,"y":11.2},{"x":11.8,"y":13.0},{"x":12.1,"y":11.5},{"x":12.4,"y":12.8},{"x":12.7,"y":11.0},{"x":13.0,"y":13.1},{"x":13.3,"y":11.5},{"x":13.6,"y":12.7},{"x":13.9,"y":11.3},{"x":14.2,"y":13.2},{"x":14.5,"y":11.6},{"x":14.8,"y":12.8},{"x":15.1,"y":11.2},{"x":15.4,"y":12.9},{"x":15.7,"y":11.4},{"x":16.0,"y":13.0},{"x":16.3,"y":11.5},{"x":16.6,"y":12.7},{"x":16.9,"y":11.0},{"x":17.2,"y":12.5},{"x":17.5,"y":11.2},{"x":17.8,"y":12.9},{"x":18.1,"y":11.6},{"x":18.4,"y":13.0},{"x":18.7,"y":11.7},{"x":19.0,"y":12.8},{"x":19.2,"y":11.8},{"x":19.47,"y":13.9},{"x":19.8,"y":11.6},{"x":20.1,"y":12.9},{"x":20.3,"y":11.8},{"x":20.56,"y":13.2},{"x":20.8,"y":12.0},{"x":21.0,"y":14},{"x":21.08,"y":60},{"x":21.16,"y":87.4},{"x":21.25,"y":50},{"x":21.35,"y":13},{"x":21.47,"y":12.0},{"x":21.7,"y":12.6},{"x":22.0,"y":11.6},{"x":22.2,"y":14},{"x":22.37,"y":19.1},{"x":22.55,"y":13},{"x":22.75,"y":12.4},{"x":22.97,"y":12.6},{"x":23.2,"y":13.4},{"x":23.4,"y":15.3},{"x":23.65,"y":12.8},{"x":23.9,"y":11.7},{"x":24.18,"y":12.0},{"x":24.4,"y":13.2},{"x":24.7,"y":12.6},{"x":24.9,"y":14.0},{"x":25.1,"y":15.7},{"x":25.4,"y":15.2},{"x":25.65,"y":17},{"x":25.87,"y":19.1},{"x":26.1,"y":20.5},{"x":26.3,"y":23},{"x":26.47,"y":28.9},{"x":26.72,"y":44.9},{"x":26.9,"y":80},{"x":27.0,"y":65},{"x":27.08,"y":61},{"x":27.2,"y":35.2},{"x":27.44,"y":42.1},{"x":27.65,"y":40},{"x":27.8,"y":40.0},{"x":28.0,"y":44},{"x":28.1,"y":45.5},{"x":28.29,"y":46.1},{"x":28.53,"y":39.7},{"x":28.7,"y":31},{"x":28.89,"y":24.4},{"x":29.1,"y":21},{"x":29.31,"y":19.1},{"x":29.49,"y":33.0},{"x":29.67,"y":43.2},{"x":29.86,"y":28.9},{"x":30.1,"y":15.7},{"x":30.4,"y":11.5},{"x":30.64,"y":9.4},{"x":30.9,"y":12.3},{"x":31.12,"y":12.4},{"x":31.4,"y":11.0},{"x":31.7,"y":12.5},{"x":32.0,"y":11.1},{"x":32.3,"y":12.8},{"x":32.6,"y":11.2},{"x":32.9,"y":12.9},{"x":33.23,"y":13.0},{"x":33.5,"y":11.0},{"x":33.84,"y":9.9},{"x":34.1,"y":11.6},{"x":34.44,"y":12.1},{"x":34.8,"y":11.3},{"x":35.1,"y":12.6},{"x":35.4,"y":11.8},{"x":35.7,"y":13.2},{"x":35.9,"y":12.6},{"x":36.13,"y":15.3},{"x":36.4,"y":13.8},{"x":36.6,"y":14.6},{"x":36.86,"y":13.6},{"x":37.1,"y":12.2},{"x":37.46,"y":11.9},{"x":37.8,"y":12.8},{"x":38.1,"y":12.4},{"x":38.36,"y":24.2},{"x":38.55,"y":13.5},{"x":38.79,"y":12.9},{"x":39.1,"y":12.2},{"x":39.4,"y":13.8},{"x":39.6,"y":16},{"x":39.75,"y":26.0},{"x":39.95,"y":15},{"x":40.24,"y":13.6},{"x":40.5,"y":12.8},{"x":40.78,"y":14.6},{"x":41.0,"y":12.6},{"x":41.3,"y":13.5},{"x":41.5,"y":12.4},{"x":41.8,"y":11.9},{"x":42.1,"y":12.8},{"x":42.4,"y":13.5},{"x":42.55,"y":25},{"x":42.65,"y":35.7},{"x":42.8,"y":20},{"x":43.0,"y":13.6},{"x":43.37,"y":16.3},{"x":43.7,"y":13.0},{"x":43.98,"y":12.9},{"x":44.3,"y":13.4},{"x":44.58,"y":17.1},{"x":44.9,"y":13.3},{"x":45.3,"y":12.9},{"x":45.6,"y":13.8},{"x":45.85,"y":15},{"x":46.0,"y":20},{"x":46.09,"y":22.8},{"x":46.25,"y":15},{"x":46.5,"y":13.6},{"x":46.8,"y":12.6},{"x":47.1,"y":13.4},{"x":47.4,"y":14.6},{"x":47.72,"y":17.7},{"x":47.95,"y":14.5},{"x":48.2,"y":13.6},{"x":48.5,"y":14.4},{"x":48.7,"y":15.5},{"x":48.93,"y":16.4},{"x":49.2,"y":15.2},{"x":49.5,"y":14.1},{"x":49.75,"y":18},{"x":49.9,"y":35},{"x":50.0,"y":60},{"x":50.1,"y":75},{"x":50.19,"y":78.6},{"x":50.3,"y":70},{"x":50.37,"y":60},{"x":50.5,"y":40},{"x":50.6,"y":20},{"x":50.74,"y":13.6},{"x":51.0,"y":12.8},{"x":51.34,"y":12.1},{"x":51.6,"y":12.9},{"x":51.9,"y":11.8},{"x":52.2,"y":12.8},{"x":52.5,"y":11.6},{"x":52.8,"y":12.6},{"x":53.1,"y":11.9},{"x":53.4,"y":13.0},{"x":53.7,"y":11.8},{"x":54.0,"y":12.9},{"x":54.3,"y":12.0},{"x":54.6,"y":13.4},{"x":54.85,"y":12.5},{"x":55.08,"y":15.3},{"x":55.3,"y":12.4},{"x":55.6,"y":13.5},{"x":55.9,"y":12.2},{"x":56.2,"y":13.6},{"x":56.5,"y":12.8},{"x":56.8,"y":13.8},{"x":57.1,"y":12.6},{"x":57.4,"y":13.9},{"x":57.68,"y":14.3},{"x":57.9,"y":14.0},{"x":58.2,"y":13.1},{"x":58.5,"y":12.4},{"x":58.8,"y":13.2},{"x":59.1,"y":12.0},{"x":59.4,"y":12.9},{"x":59.7,"y":12.3},{"x":60.0,"y":14},{"x":60.15,"y":17.1},{"x":60.4,"y":13.0},{"x":60.69,"y":12.6},{"x":61.0,"y":13.3},{"x":61.3,"y":12.1},{"x":61.6,"y":13.0},{"x":61.9,"y":12.2},{"x":62.2,"y":12.7},{"x":62.5,"y":11.9},{"x":62.8,"y":12.6},{"x":63.1,"y":11.8},{"x":63.4,"y":12.6},{"x":63.7,"y":11.7},{"x":64.0,"y":12.2},{"x":64.3,"y":11.2},{"x":64.6,"y":12.0},{"x":64.9,"y":10.8},{"x":65.2,"y":11.6},{"x":65.52,"y":10.0},{"x":65.8,"y":11.5},{"x":66.1,"y":11.0},{"x":66.4,"y":12.0},{"x":66.7,"y":11.6},{"x":67.0,"y":12.4},{"x":67.3,"y":12.2},{"x":67.6,"y":13.5},{"x":67.94,"y":16.4},{"x":68.2,"y":15.4},{"x":68.54,"y":16.4},{"x":68.8,"y":14.0},{"x":69.14,"y":12.6},{"x":69.4,"y":11.6},{"x":69.7,"y":12.6},{"x":70.0,"y":11.4},{"x":70.3,"y":12.4},{"x":70.6,"y":11.2},{"x":70.9,"y":12.3},{"x":71.2,"y":11.3},{"x":71.5,"y":12.4},{"x":71.8,"y":11.5},{"x":72.1,"y":12.6},{"x":72.4,"y":11.6},{"x":72.7,"y":12.5},{"x":73.07,"y":12.1},{"x":73.4,"y":11.4},{"x":73.7,"y":12.6},{"x":74.0,"y":11.5},{"x":74.3,"y":12.4},{"x":74.6,"y":11.6},{"x":74.9,"y":12.5},{"x":75.2,"y":11.8},{"x":75.5,"y":12.8},{"x":75.78,"y":13.0},{"x":76.1,"y":11.8},{"x":76.4,"y":12.6},{"x":76.7,"y":11.7},{"x":77.0,"y":12.7},{"x":77.3,"y":12.2},{"x":77.5,"y":13.2},{"x":77.77,"y":13.9},{"x":78.0,"y":12.6},{"x":78.3,"y":11.6},{"x":78.6,"y":12.5},{"x":78.9,"y":11.4},{"x":79.2,"y":12.2},{"x":79.5,"y":11.6},{"x":79.8,"y":12.8},{"x":80.0,"y":13.8}]
},
"spacing": 22,
"vconcat": [
 {"bounds": "flush", "spacing": 77, "hconcat": [
  {"width": 387, "height": 312, "data": {"name": "a"}, "title": {"text": "(a) BC", "dx": 8, "offset": -23.5},
   "mark": {"type": "line", "color": "#000000"},
   "encoding": {
    "x": {"field": "x", "type": "quantitative", "scale": {"domain": [10, 80], "nice": false, "zero": false}, "axis": {"title": "2θ (degree)", "values": [10,12,14,16,18,20,22,24,26,28,30,32,34,36,38,40,42,44,46,48,50,52,54,56,58,60,62,64,66,68,70,72,74,76,78,80], "labelExpr": "datum.value % 10 === 0 ? datum.label : ''", "tickSize": {"condition": {"test": "datum.value % 10 === 0", "value": 5}, "value": 3}}},
    "y": {"field": "y", "type": "quantitative", "scale": {"domain": [0, 100], "nice": false, "zero": false}, "axis": {"title": "Intensity (a.u.)"}}
   }},
  {"width": 387, "height": 312, "data": {"name": "b"}, "title": {"text": "(b) pure GCN", "dx": 9, "offset": -21.5},
   "mark": {"type": "line", "color": "#ff0000"},
   "encoding": {
    "x": {"field": "x", "type": "quantitative", "scale": {"domain": [10, 80], "nice": false, "zero": false}, "axis": {"title": "2θ (degree)", "values": [10,12,14,16,18,20,22,24,26,28,30,32,34,36,38,40,42,44,46,48,50,52,54,56,58,60,62,64,66,68,70,72,74,76,78,80], "labelExpr": "datum.value % 10 === 0 ? datum.label : ''", "tickSize": {"condition": {"test": "datum.value % 10 === 0", "value": 5}, "value": 3}}},
    "y": {"field": "y", "type": "quantitative", "scale": {"domain": [0, 100], "nice": false, "zero": false}, "axis": {"title": "Intensity (a.u.)"}}
   }}
 ]},
 {"bounds": "flush", "spacing": 77, "hconcat": [
  {"width": 387, "height": 312, "data": {"name": "c"}, "title": {"text": "(c) 0.05-ABCN", "dx": 11, "offset": -18.5},
   "mark": {"type": "line", "color": "#0000ff"},
   "encoding": {
    "x": {"field": "x", "type": "quantitative", "scale": {"domain": [10, 80], "nice": false, "zero": false}, "axis": {"title": "2θ (degree)", "values": [10,12,14,16,18,20,22,24,26,28,30,32,34,36,38,40,42,44,46,48,50,52,54,56,58,60,62,64,66,68,70,72,74,76,78,80], "labelExpr": "datum.value % 10 === 0 ? datum.label : ''", "tickSize": {"condition": {"test": "datum.value % 10 === 0", "value": 5}, "value": 3}}},
    "y": {"field": "y", "type": "quantitative", "scale": {"domain": [0, 100], "nice": false, "zero": false}, "axis": {"title": "Intensity (a.u.)"}}
   }},
  {"width": 387, "height": 312, "data": {"name": "d"}, "title": {"text": "(d) 0.07-ABCN", "dx": 7, "offset": -27.5},
   "mark": {"type": "line", "color": "#008000"},
   "encoding": {
    "x": {"field": "x", "type": "quantitative", "scale": {"domain": [10, 80], "nice": false, "zero": false}, "axis": {"title": "2θ (degree)", "values": [10,12,14,16,18,20,22,24,26,28,30,32,34,36,38,40,42,44,46,48,50,52,54,56,58,60,62,64,66,68,70,72,74,76,78,80], "labelExpr": "datum.value % 10 === 0 ? datum.label : ''", "tickSize": {"condition": {"test": "datum.value % 10 === 0", "value": 5}, "value": 3}}},
    "y": {"field": "y", "type": "quantitative", "scale": {"domain": [0, 100], "nice": false, "zero": false}, "axis": {"title": "Intensity (a.u.)"}}
   }}
 ]},
 {"bounds": "flush", "spacing": 77, "hconcat": [
  {"width": 387, "height": 312, "data": {"name": "e"}, "title": {"text": "(e) 0.10-ABCN", "dx": 14, "offset": -26.5, "fontSize": 15.5},
   "mark": {"type": "line", "color": "#ff00ff"},
   "encoding": {
    "x": {"field": "x", "type": "quantitative", "scale": {"domain": [10, 80], "nice": false, "zero": false}, "axis": {"title": "2θ (degree)", "values": [10,12,14,16,18,20,22,24,26,28,30,32,34,36,38,40,42,44,46,48,50,52,54,56,58,60,62,64,66,68,70,72,74,76,78,80], "labelExpr": "datum.value % 10 === 0 ? datum.label : ''", "tickSize": {"condition": {"test": "datum.value % 10 === 0", "value": 5}, "value": 3}}},
    "y": {"field": "y", "type": "quantitative", "scale": {"domain": [0, 100], "nice": false, "zero": false}, "axis": {"title": "Intensity (a.u.)"}}
   }},
  {"width": 387, "height": 312, "data": {"name": "f"}, "title": {"text": "(f) 0.13-ABCN", "dx": 16, "offset": -20.5},
   "mark": {"type": "line", "color": "#808000"},
   "encoding": {
    "x": {"field": "x", "type": "quantitative", "scale": {"domain": [10, 80], "nice": false, "zero": false}, "axis": {"title": "2θ (degree)", "values": [10,12,14,16,18,20,22,24,26,28,30,32,34,36,38,40,42,44,46,48,50,52,54,56,58,60,62,64,66,68,70,72,74,76,78,80], "labelExpr": "datum.value % 10 === 0 ? datum.label : ''", "tickSize": {"condition": {"test": "datum.value % 10 === 0", "value": 5}, "value": 3}}},
    "y": {"field": "y", "type": "quantitative", "scale": {"domain": [0, 100], "nice": false, "zero": false}, "axis": {"title": "Intensity (a.u.)"}}
   }}
 ]},
 {"bounds": "flush", "spacing": 77, "hconcat": [
  {"width": 141, "height": 312, "data": {"values": [{}]}, "mark": {"type": "point", "opacity": 0}, "view": {"stroke": null}},
  {"width": 387, "height": 312, "data": {"name": "g"}, "title": {"text": "(g) 0.15-ABCN", "dx": 11, "offset": -23.5},
   "mark": {"type": "line", "color": "#00ffff"},
   "encoding": {
    "x": {"field": "x", "type": "quantitative", "scale": {"domain": [10, 80], "nice": false, "zero": false}, "axis": {"title": "2θ (degree)", "values": [10,12,14,16,18,20,22,24,26,28,30,32,34,36,38,40,42,44,46,48,50,52,54,56,58,60,62,64,66,68,70,72,74,76,78,80], "labelExpr": "datum.value % 10 === 0 ? datum.label : ''", "tickSize": {"condition": {"test": "datum.value % 10 === 0", "value": 5}, "value": 3}}},
    "y": {"field": "y", "type": "quantitative", "scale": {"domain": [0, 100], "nice": false, "zero": false}, "axis": {"title": "intensity (a.u.)"}}
   }}
 ]}
]
}
